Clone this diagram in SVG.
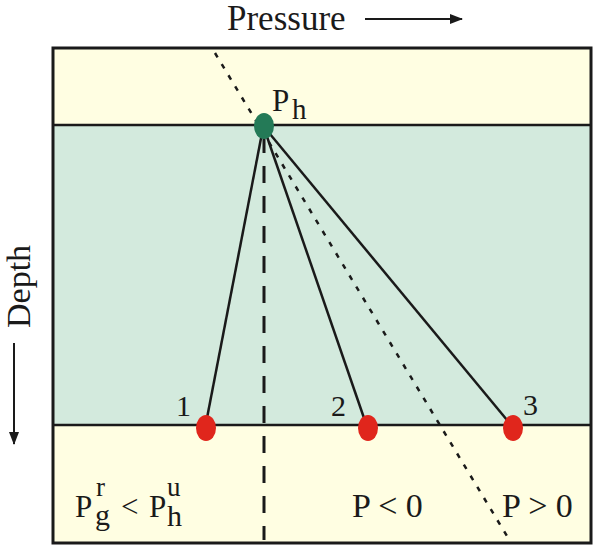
<svg xmlns="http://www.w3.org/2000/svg" width="600" height="550" viewBox="0 0 600 550">
<style>
text{font-family:'Liberation Serif','Times New Roman','DejaVu Serif',serif;fill:#1a1a1a}
.band{fill:#FFFEE2}
.mid{fill:#D3EADD}
.edge{stroke:#1a1a1a;stroke-width:2.5;fill:none}
.red{fill:#E0261C}
</style>
<defs>
<marker id="ah" markerWidth="13" markerHeight="10" refX="12" refY="5" orient="auto" markerUnits="userSpaceOnUse">
<path d="M0,0 L13,5 L0,10 Z" fill="#1a1a1a"/>
</marker>
</defs>
<rect width="600" height="550" fill="#fff"/>
<g id="axes">
<text x="227" y="30" font-size="35">Pressure</text>
<line x1="365" y1="19" x2="462" y2="19" stroke="#1a1a1a" stroke-width="2" marker-end="url(#ah)"/>
<text transform="translate(30,328) rotate(-90)" font-size="34">Depth</text>
<line x1="14" y1="343" x2="14" y2="444" stroke="#1a1a1a" stroke-width="2" marker-end="url(#ah)"/>
</g>
<g id="layers">
<rect class="band" x="53" y="48" width="538" height="77"/>
<rect class="mid" x="53" y="125" width="538" height="300"/>
<rect class="band" x="53" y="425" width="538" height="118"/>
<line x1="53" y1="125" x2="591" y2="125" stroke="#1a1a1a" stroke-width="2.5"/>
<line x1="53" y1="425" x2="591" y2="425" stroke="#1a1a1a" stroke-width="2.5"/>
<rect x="53" y="48" width="538" height="495" fill="none" stroke="#1a1a1a" stroke-width="3"/>
</g>
<g id="connectors">
<line x1="264" y1="136" x2="264" y2="540" stroke="#1a1a1a" stroke-width="3" stroke-dasharray="17,13"/>
<line x1="215" y1="53" x2="510" y2="541" stroke="#1a1a1a" stroke-width="2.5" stroke-dasharray="5,8"/>
<line class="edge" x1="263" y1="128" x2="207" y2="418"/>
<line class="edge" x1="264" y1="128" x2="364" y2="418"/>
<line class="edge" x1="265" y1="128" x2="507" y2="420"/>
</g>
<g id="node-ph">
<ellipse cx="264" cy="126" rx="10" ry="13" fill="#247A57"/>
<text x="272" y="111" font-size="31">P<tspan x="292" y="119" font-size="29">h</tspan></text>
</g>
<g id="node-1">
<ellipse class="red" cx="206" cy="428" rx="10" ry="13"/>
<text x="176" y="416" font-size="30">1</text>
</g>
<g id="node-2">
<ellipse class="red" cx="368" cy="428" rx="10" ry="13"/>
<text x="331" y="416" font-size="30">2</text>
</g>
<g id="node-3">
<ellipse class="red" cx="513" cy="428" rx="10" ry="13"/>
<text x="523" y="415" font-size="30">3</text>
</g>
<g id="labels">
<text x="75" y="517" font-size="31">P<tspan x="96" y="496" font-size="27">r</tspan><tspan x="95" y="525" font-size="30">g</tspan><tspan x="121" y="517">&lt;</tspan><tspan x="149" y="517">P</tspan><tspan x="167" y="496" font-size="27">u</tspan><tspan x="167" y="526" font-size="30">h</tspan></text>
<text x="352" y="517" font-size="34">P &lt; 0</text>
<text x="502" y="517" font-size="34">P &gt; 0</text>
</g>
</svg>
